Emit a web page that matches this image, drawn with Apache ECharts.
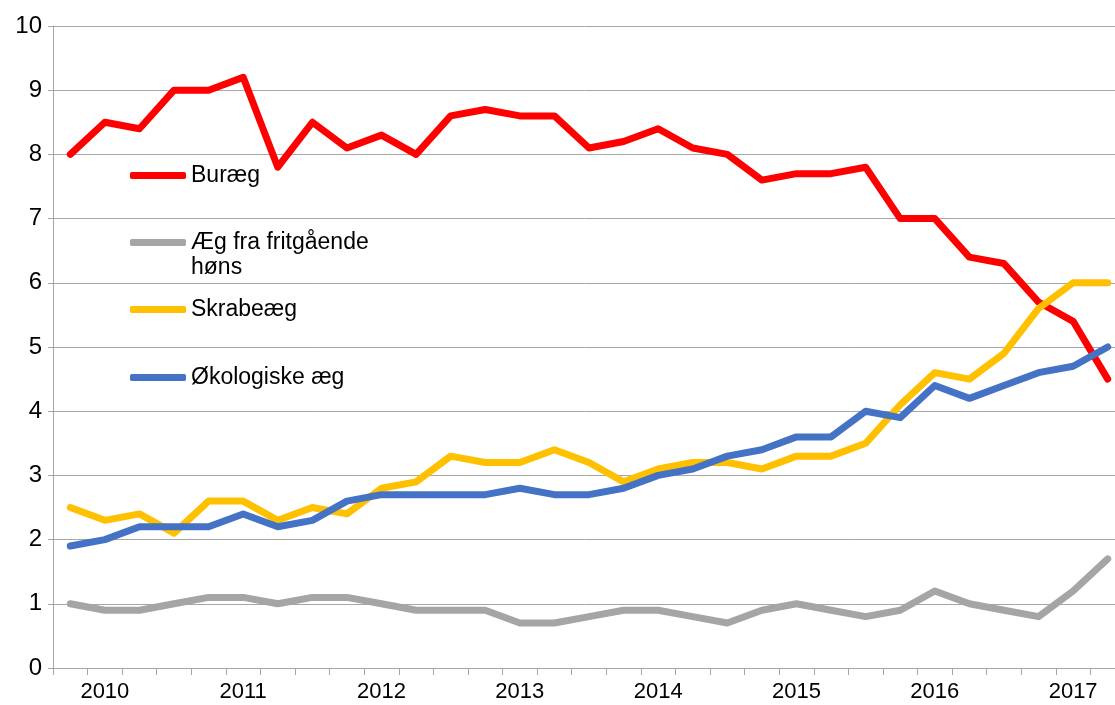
<!DOCTYPE html>
<html>
<head>
<meta charset="utf-8">
<script src="https://cdn.jsdelivr.net/npm/echarts@6/dist/echarts.min.js"></script>
<style>
  html, body { margin: 0; padding: 0; background: #fff; }
  #chart { width: 1115px; height: 705px; }
</style>
</head>
<body>
<div id="chart"></div>
<script>
// kvartaler 2009K4 - 2017K2
const quarters = [
  '2009K4',
  '2010K1', '2010K2', '2010K3', '2010K4',
  '2011K1', '2011K2', '2011K3', '2011K4',
  '2012K1', '2012K2', '2012K3', '2012K4',
  '2013K1', '2013K2', '2013K3', '2013K4',
  '2014K1', '2014K2', '2014K3', '2014K4',
  '2015K1', '2015K2', '2015K3', '2015K4',
  '2016K1', '2016K2', '2016K3', '2016K4',
  '2017K1', '2017K2'
];
const yTicks = [0, 1, 2, 3, 4, 5, 6, 7, 8, 9, 10];

const buraeg = [8.0, 8.5, 8.4, 9.0, 9.0, 9.2, 7.8, 8.5, 8.1, 8.3, 8.0, 8.6, 8.7, 8.6, 8.6, 8.1,
  8.2, 8.4, 8.1, 8.0, 7.6, 7.7, 7.7, 7.8, 7.0, 7.0, 6.4, 6.3, 5.7, 5.4, 4.5];
const fritgaaende = [1.0, 0.9, 0.9, 1.0, 1.1, 1.1, 1.0, 1.1, 1.1, 1.0, 0.9, 0.9, 0.9, 0.7, 0.7, 0.8,
  0.9, 0.9, 0.8, 0.7, 0.9, 1.0, 0.9, 0.8, 0.9, 1.2, 1.0, 0.9, 0.8, 1.2, 1.7];
const skrabeaeg = [2.5, 2.3, 2.4, 2.1, 2.6, 2.6, 2.3, 2.5, 2.4, 2.8, 2.9, 3.3, 3.2, 3.2, 3.4, 3.2,
  2.9, 3.1, 3.2, 3.2, 3.1, 3.3, 3.3, 3.5, 4.1, 4.6, 4.5, 4.9, 5.6, 6.0, 6.0];
const oekologiske = [1.9, 2.0, 2.2, 2.2, 2.2, 2.4, 2.2, 2.3, 2.6, 2.7, 2.7, 2.7, 2.7, 2.8, 2.7, 2.7,
  2.8, 3.0, 3.1, 3.3, 3.4, 3.6, 3.6, 4.0, 3.9, 4.4, 4.2, 4.4, 4.6, 4.7, 5.0];

const names = ['Buræg', 'Æg fra fritgående høns', 'Skrabeæg', 'Økologiske æg'];
const colors = ['#ff0000', '#a5a5a5', '#ffc000', '#4472c4'];

const font = '"Liberation Sans", Arial, sans-serif';
const gridColor = '#a6a6a6';

const chart = echarts.init(document.getElementById('chart'));

// en legende pr. serie, så hver linje kan placeres som i originalen
function legendAt(name, top, extra) {
  return Object.assign({
    data: [name],
    left: 130,
    top: top,
    icon: 'roundRect',
    itemWidth: 56,
    itemHeight: 7,
    selectedMode: false,
    padding: 0,
    textStyle: { fontFamily: font, fontSize: 23, color: '#000' }
  }, extra || {});
}

function lineSeries(name, data, i) {
  return {
    name: name,
    type: 'line',
    data: data,
    symbol: 'none',
    smooth: false,
    itemStyle: { color: colors[i] },
    lineStyle: { width: 7, color: colors[i], cap: 'round', join: 'round' },
    emphasis: { disabled: true }
  };
}

const option = {
  animation: false,
  backgroundColor: '#fff',
  grid: { left: 53, right: -10, top: 26, bottom: 37, outerBoundsMode: 'none' },
  legend: [
    legendAt(names[0], 164),
    // tom første linje, så ikonet flugter med tekstens første linje
    legendAt(names[1], 205, {
      formatter: () => ' \nÆg fra fritgående\nhøns',
      textStyle: { fontFamily: font, fontSize: 23, color: '#000', lineHeight: 25 }
    }),
    legendAt(names[2], 298),
    legendAt(names[3], 366)
  ],
  xAxis: {
    type: 'category',
    data: quarters,
    boundaryGap: true,
    axisLine: { show: true, lineStyle: { color: gridColor, width: 1 } },
    axisTick: { show: true, interval: 0, length: 7, lineStyle: { color: gridColor } },
    axisLabel: {
      interval: (idx) => (idx - 1) % 4 === 0,
      formatter: (v) => v.slice(0, 4),
      fontFamily: font,
      fontSize: 22,
      color: '#000',
      margin: 13
    },
    splitLine: { show: false }
  },
  yAxis: {
    type: 'value',
    min: yTicks[0],
    max: yTicks[yTicks.length - 1],
    interval: 1,
    axisLine: { show: true, lineStyle: { color: gridColor, width: 1 } },
    axisTick: { show: true, length: 5, lineStyle: { color: gridColor } },
    axisLabel: { fontFamily: font, fontSize: 24, color: '#000', margin: 11 },
    splitLine: { show: true, lineStyle: { color: gridColor, width: 1 } }
  },
  series: [
    lineSeries(names[0], buraeg, 0),
    lineSeries(names[1], fritgaaende, 1),
    lineSeries(names[2], skrabeaeg, 2),
    lineSeries(names[3], oekologiske, 3)
  ]
};

chart.setOption(option);
</script>
</body>
</html>
